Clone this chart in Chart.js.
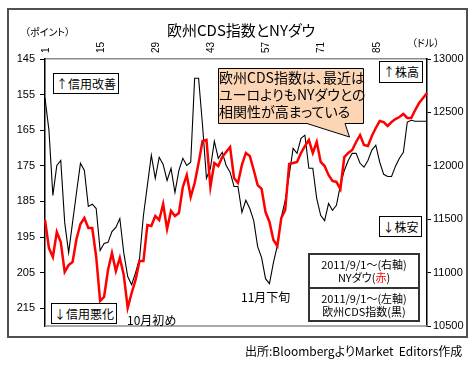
<!DOCTYPE html>
<html>
<head>
<meta charset="utf-8">
<script src="https://cdn.jsdelivr.net/npm/chart.js@4.4.1/dist/chart.umd.min.js"></script>
<style>
  body { margin: 0; background: #fff; }
  #wrap { position: relative; width: 473px; height: 367px; font-family: "Noto Sans CJK JP", sans-serif; font-feature-settings: "palt"; color: #000; }
  #frame { position: absolute; left: 7px; top: 8px; width: 461px; height: 330px; box-sizing: border-box; border: 2px solid #505050; }
  canvas { position: absolute; left: 0; top: 0; }
  .t { position: absolute; white-space: nowrap; line-height: 1; }
  .box { position: absolute; box-sizing: border-box; background: #fff; border: 1px solid #000; display: flex; align-items: center; justify-content: center; font-size: 12px; line-height: 1; white-space: nowrap; }
  .leg { position: absolute; box-sizing: border-box; background: #fff; border: 2px solid #333; font-size: 11px; line-height: 13px; text-align: center; padding-top: 3px; }
  #callout { position: absolute; left: 0; top: 0; }
  #calloutText { position: absolute; left: 219px; top: 69px; font-size: 14px; line-height: 17px; white-space: nowrap; }
</style>
</head>
<body>
<div id="wrap">
  <div id="frame"></div>
  <canvas id="c" width="473" height="367" style="width:473px;height:367px"></canvas>

  <div class="t" style="left:167px;top:22px;font-size:15px">欧州CDS指数とNYダウ</div>
  <div class="t" style="left:25px;top:27px;font-size:10px">（ポイント）</div>
  <div class="t" style="left:412px;top:38px;font-size:10px">（ドル）</div>

  <div class="box" style="left:53px;top:73px;width:66px;height:21px">↑信用改善</div>
  <div class="box" style="left:51px;top:303px;width:66px;height:21px">↓信用悪化</div>
  <div class="box" style="left:379px;top:61px;width:44px;height:22px">↑株高</div>
  <div class="box" style="left:379px;top:216px;width:43px;height:21px">↓株安</div>

  <svg id="callout" width="473" height="367">
    <path d="M218.5,68.5 H363.5 V123.5 H345 L349.5,137 L307,123.5 H218.5 Z" fill="#fcd5b5" stroke="#000" stroke-width="1"/>
  </svg>
  <div id="calloutText">欧州CDS指数は、最近は<br>ユーロよりもNYダウとの<br>相関性が高まっている</div>

  <div class="t" style="left:127px;top:314px;font-size:12px">10月初め</div>
  <div class="t" style="left:241px;top:291px;font-size:12px">11月下旬</div>

  <div class="leg" style="left:308px;top:253px;width:112px;height:36px">2011/9/1～(右軸)<br>NYダウ(<span style="color:#ff0000">赤</span>)</div>
  <div class="leg" style="left:308px;top:287px;width:112px;height:35px">2011/9/1～(左軸)<br>欧州CDS指数(黒)</div>

  <div class="t" style="left:245px;top:345px;font-size:12px">出所:BloombergよりMarket&nbsp; Editors作成</div>
</div>

<script>
// 欧州CDS指数 (left axis, reversed), daily from 2011/9/1
const cdsIndex = [
  156.0, 165.0, 183.3, 174.9, 173.5, 190.9, 199.4, 190.9, 182.5, 174.3,
  176.3, 186.4, 185.8, 187.0, 198.8, 196.8, 196.5, 193.5, 192.3, 189.8,
  199.4, 206.1, 208.4, 205.0, 201.1, 188.9, 180.5, 172.0, 178.5, 172.6,
  174.6, 179.1, 175.7, 182.5, 176.3, 172.9, 174.9, 174.0, 150.4, 150.4,
  163.6, 178.5, 175.7, 168.1, 172.9, 171.2, 174.9, 176.8, 180.8, 180.8,
  188.1, 184.7, 187.0, 190.4, 197.7, 200.8, 206.7, 208.1, 202.2, 197.4,
  189.5, 184.7, 177.7, 170.1, 171.5, 167.3, 166.4, 175.7, 175.7, 184.2,
  188.9, 190.4, 185.6, 187.5, 186.1, 180.5, 176.3, 173.5, 171.5, 171.5,
  174.3, 175.4, 173.5, 170.6, 169.2, 174.0, 177.4, 178.0, 178.0, 175.1,
  172.9, 171.2, 162.7, 162.2, 162.5, 162.5, 162.5, 162.5
];

// NYダウ (right axis)
const nyDow = [
  11493, 11230, 11146, 11380, 11287, 11006, 11071, 11099, 11315, 11455,
  11511, 11418, 11418, 11146, 10734, 10772, 11024, 11184, 11015, 11137,
  10978, 10669, 10809, 10931, 11109, 11109, 11446, 11436, 11530, 11493,
  11642, 11408, 11577, 11530, 11558, 11802, 11914, 11708, 11839, 12026,
  12232, 12242, 11802, 12026, 11998, 12082, 12129, 12176, 11886, 11839,
  12008, 12120, 12092, 11961, 11820, 11783, 11567, 11474, 11305, 11249,
  11511, 11586, 12017, 12026, 12036, 12120, 12185, 12242, 12120, 12223,
  12036, 11998, 11914, 11858, 11849, 11783, 12082, 12120, 12148, 12223,
  12288, 12195, 12185, 12279, 12354, 12419, 12410, 12373, 12410, 12438,
  12457, 12485, 12448, 12448, 12522, 12588, 12635, 12682
];

const days = cdsIndex.map((_, i) => String(i + 1));
const topTicks = ['1', '15', '29', '43', '57', '71', '85'];
const leftTicks = [145, 155, 165, 175, 185, 195, 205, 215];

Chart.defaults.font.family = '"Liberation Sans", Arial, sans-serif';
Chart.defaults.color = '#000';

// gray bottom edge of the plot area
const plotBottom = {
  id: 'plotBottom',
  beforeDatasetsDraw(c) {
    const a = c.chartArea, g = c.ctx;
    g.save();
    g.strokeStyle = '#8c8c8c';
    g.lineWidth = 1.5;
    g.beginPath();
    g.moveTo(a.left, a.bottom);
    g.lineTo(a.right, a.bottom);
    g.stroke();
    g.restore();
  }
};

new Chart(document.getElementById('c').getContext('2d'), {
  type: 'line',
  data: {
    labels: days,
    datasets: [
      { label: 'NYダウ', data: nyDow, yAxisID: 'y2', borderColor: '#ff0000', borderWidth: 2.5,
        pointRadius: 0, tension: 0, fill: false },
      { label: '欧州CDS指数', data: cdsIndex, yAxisID: 'y', borderColor: '#000', borderWidth: 1.1,
        pointRadius: 0, tension: 0, fill: false }
    ]
  },
  options: {
    responsive: false,
    animation: false,
    devicePixelRatio: 1,
    layout: { padding: { left: 0, right: 0, top: 0, bottom: 41 } },
    plugins: { legend: { display: false }, tooltip: { enabled: false } },
    scales: {
      x: {
        position: 'top', offset: false,
        grid: { display: true, drawOnChartArea: false, drawTicks: false },
        border: { color: '#8c8c8c', width: 1.5 },
        ticks: {
          autoSkip: false, minRotation: 90, maxRotation: 90, padding: 6, labelOffset: 13,
          font: { size: 10 },
          callback: (v, i) => topTicks.includes(days[i]) ? days[i] : ''
        },
        afterFit: s => { s.height = 59; }
      },
      y: {
        position: 'left', reverse: true, min: 145, max: 220,
        afterBuildTicks: s => { s.ticks = leftTicks.map(v => ({ value: v })); },
        grid: { drawOnChartArea: false, tickLength: 5, color: '#000' },
        border: { color: '#000', width: 1.5 },
        ticks: { padding: 5, font: { size: 11 } },
        afterFit: s => { s.width = 45; }
      },
      y2: {
        position: 'right', min: 10500, max: 13000,
        grid: { drawOnChartArea: false, tickLength: 4, color: '#000' },
        border: { color: '#000', width: 1.5 },
        ticks: { stepSize: 500, padding: 2, font: { size: 11 }, callback: v => String(v) },
        afterFit: s => { s.width = 46; }
      }
    }
  },
  plugins: [plotBottom]
});
</script>
</body>
</html>
